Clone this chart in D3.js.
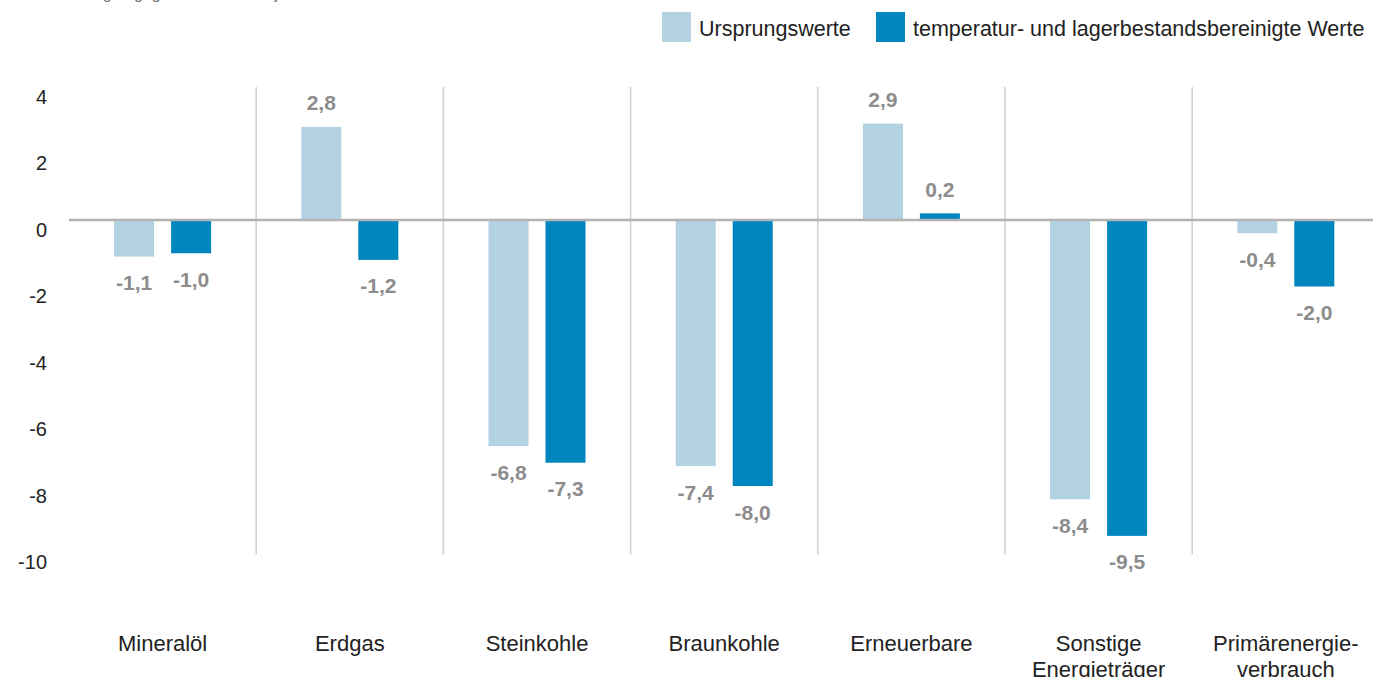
<!DOCTYPE html>
<html><head><meta charset="utf-8">
<script src="https://cdn.jsdelivr.net/npm/d3@7"></script>
<style>
html,body{margin:0;padding:0;background:#fff;overflow:hidden;}
svg{display:block;font-family:"Liberation Sans",Arial,sans-serif;}
</style></head>
<body>
<svg id="c" width="1373" height="677"></svg>
<script>
const categories = ["Mineralöl","Erdgas","Steinkohle","Braunkohle","Erneuerbare","Sonstige Energieträger","Primärenergieverbrauch"];
const categoryLines = [["Mineralöl"],["Erdgas"],["Steinkohle"],["Braunkohle"],["Erneuerbare"],["Sonstige","Energieträger"],["Primärenergie-","verbrauch"]];
const seriesNames = ["Ursprungswerte","temperatur- und lagerbestandsbereinigte Werte"];
const ursprungswerte = [-1.1, 2.8, -6.8, -7.4, 2.9, -8.4, -0.4];
const bereinigt = [-1.0, -1.2, -7.3, -8.0, 0.2, -9.5, -2.0];
const yTicks = [4, 2, 0, -2, -4, -6, -8, -10];
const subtitle = "Veränderungen gegenüber dem Vorjahr in Prozent";

const colors = ["#b3d2e2", "#0086bf"];
const svg = d3.select("#c");

const y = d3.scaleLinear().domain([4, -10]).range([87, 552.5]);
const x = d3.scaleBand().domain(categories).range([69, 69 + 7 * 187.2]);
const xs = d3.scaleBand().domain(seriesNames).range([0, 97]).paddingInner(17 / 57);

// subtitle (cut off at top, as in the reference)
svg.append("text").attr("x", 20).attr("y", -1).attr("fill", "#777")
  .style("font-size", "16px").text(subtitle);

// separators
const seps = categories.slice(1).map(c => x(c));
svg.selectAll("line.sep").data(seps).join("line")
  .attr("x1", d => d).attr("x2", d => d)
  .attr("y1", y(4)).attr("y2", y(-10) + 2)
  .attr("stroke", "#d0d0d0").attr("stroke-width", 1.5);

// y axis labels
const yAxis = d3.axisLeft(y).tickValues(yTicks).tickSize(0).tickPadding(0)
  .tickFormat(d => String(d).replace("−", "-"));
const ga = svg.append("g").attr("transform", "translate(47,10)").call(yAxis);
ga.select(".domain").remove();
ga.selectAll("text").attr("fill", "#222").style("font-size", "20px")
  .style("font-family", "'Liberation Sans',Arial,sans-serif");

// bars
const data = [ursprungswerte, bereinigt];
data.forEach((vals, si) => {
  const g = svg.append("g");
  vals.forEach((v, i) => {
    const cx = x(categories[i]) + x.bandwidth() / 2 - 48.5 + xs(seriesNames[si]);
    g.append("rect")
      .attr("x", cx).attr("width", xs.bandwidth())
      .attr("y", y(Math.max(0, v))).attr("height", Math.abs(y(v) - y(0)))
      .attr("fill", colors[si]);
    const lx = cx + xs.bandwidth() / 2;
    const ly = v >= 0 ? y(v) - 24 : y(v) + 26;
    g.append("text").attr("x", lx).attr("y", ly + 7.5)
      .attr("text-anchor", "middle").attr("fill", "#8c8c8c")
      .style("font-size", "21px").style("font-weight", "bold")
      .text(v.toFixed(1).replace(".", ","));
  });
});

// zero line
svg.append("line").attr("x1", 69).attr("x2", 1373)
  .attr("y1", y(0)).attr("y2", y(0))
  .attr("stroke", "#b3b3b3").attr("stroke-width", 2.5);

// category labels
categoryLines.forEach((lines, i) => {
  const t = svg.append("text").attr("text-anchor", "middle").attr("fill", "#222")
    .style("font-size", "22px");
  lines.forEach((ln, j) => {
    t.append("tspan").attr("x", x(categories[i]) + x.bandwidth() / 2)
      .attr("y", 651 + j * 26).text(ln);
  });
});

// legend
const legX = [662, 876];
seriesNames.forEach((n, i) => {
  svg.append("rect").attr("x", legX[i]).attr("y", 12).attr("width", 29).attr("height", 30)
    .attr("fill", colors[i]);
  svg.append("text").attr("x", legX[i] + 37).attr("y", 35.5).attr("fill", "#222")
    .style("font-size", "21.5px").text(n);
});
</script>
</body></html>
